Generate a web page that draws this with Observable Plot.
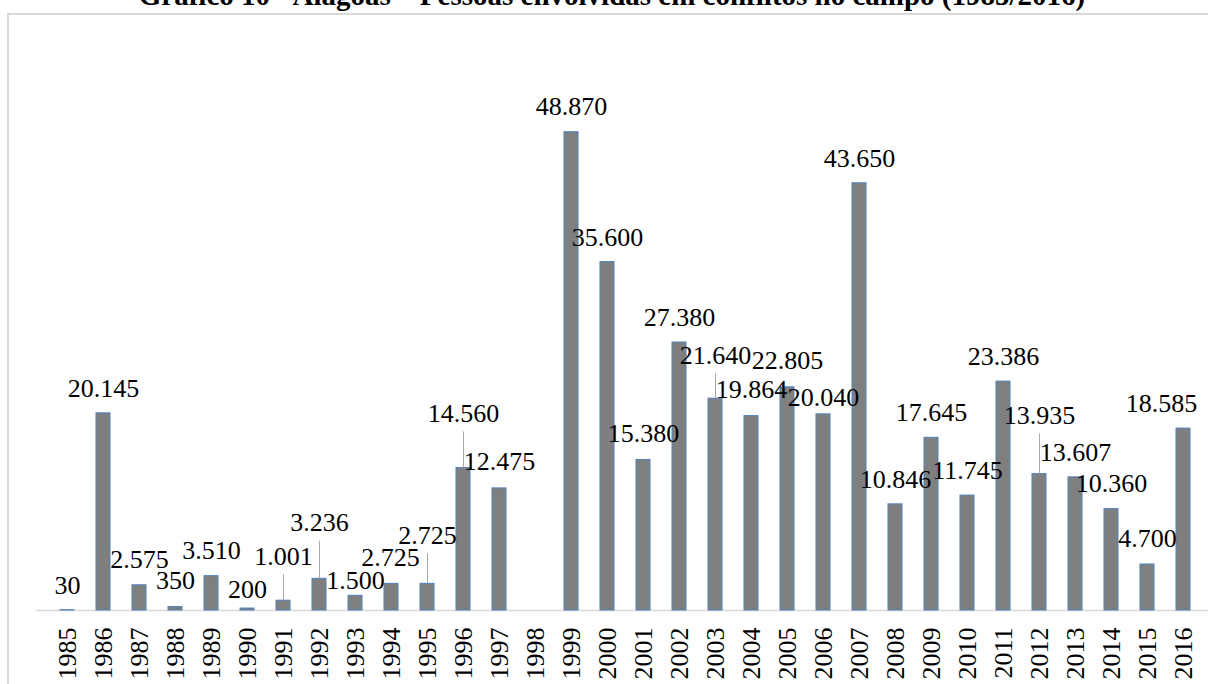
<!DOCTYPE html>
<html><head><meta charset="utf-8">
<script src="https://cdn.jsdelivr.net/npm/d3@7"></script>
<script src="https://cdn.jsdelivr.net/npm/@observablehq/plot@0.6"></script>
<style>
html,body{margin:0;padding:0;background:#fff;overflow:hidden;width:1208px;height:684px;}
#title{position:relative;height:13px;}
#title span{position:absolute;left:8px;width:1208px;top:-18.8px;text-align:center;font-family:"Liberation Serif","Times New Roman",serif;font-weight:bold;font-size:29px;line-height:29px;white-space:nowrap;color:#000;}
#frame{margin-left:7px;border-top:2px solid #d9d9d9;border-left:2px solid #d9d9d9;width:1199px;height:669px;overflow:hidden;}
#frame svg{display:block;font-family:"Liberation Serif","Times New Roman",serif !important;}
#frame svg text{font-family:"Liberation Serif","Times New Roman",serif !important;}
</style></head><body>
<div id="title"><span>Gráfico 10 - Alagoas – Pessoas envolvidas em conflitos no campo (1985/2016)</span></div>
<div id="frame"></div>
<script>
// Categories (years)
const years = ["1985","1986","1987","1988","1989","1990","1991","1992","1993","1994","1995","1996","1997","1998","1999","2000","2001","2002","2003","2004","2005","2006","2007","2008","2009","2010","2011","2012","2013","2014","2015","2016"];
// Pessoas envolvidas em conflitos no campo
const values = [30,20145,2575,350,3510,200,1001,3236,1500,2725,2725,14560,12475,null,48870,35600,15380,27380,21640,19864,22805,20040,43650,10846,17645,11745,23386,13935,13607,10360,4700,18585];
// Data-label placement (px above bar top, px sideways), as in the original
const labelRaise = [16,16,17.5,18,16.7,11,36,47.7,7,18,40,46,18,0,16.7,16,18,17,35,17.7,18,8,16.7,16.7,17.3,17,17,50,16.7,16.7,17.3,17];
const labelShift = [0,0,0,0,0,0,0,0,0,-1,0,0,0,0,0,0,0,0,0,0,0,0,0,0,0,0,0,0,0,0,0,-22];
const leaderYears = ["1991","1992","1995","1996","2003","2012"];

const FONT = '"Liberation Serif","Times New Roman",serif';
const fmt = d3.formatLocale({decimal: ",", thousands: ".", grouping: [3], currency: ["R$", ""]}).format(",d");

const rows = years.map((year, i) => ({year, value: values[i], i})).filter(d => d.value != null);

const labelMarks = rows.map(d => Plot.text([d], {
  x: "year", y: "value", text: r => fmt(r.value),
  lineAnchor: "bottom", textAnchor: "middle",
  dy: -labelRaise[d.i], dx: labelShift[d.i],
  fontSize: 26, fontFamily: FONT, fill: "#000"
}));

const leaderMarks = rows.filter(d => leaderYears.includes(d.year)).map(d => Plot.ruleX([d], {
  x: "year", y1: "value", y2: "value",
  insetBottom: labelRaise[d.i] - 10,
  stroke: "#a6a6a6", strokeWidth: 1
}));

const chart = Plot.plot({
  width: 1199,
  height: 669,
  marginTop: 105.64,
  marginBottom: 74,
  marginLeft: 26.8,
  marginRight: 0,
  style: {fontFamily: FONT, fontSize: "26px", background: "white", color: "#000"},
  x: {type: "band", domain: years, range: [26.8, 1205.7], paddingInner: 0.6, paddingOuter: 0.3, align: 0.5},
  y: {domain: [0, 50000], axis: null},
  marks: [
    Plot.ruleY([0], {stroke: "#d9d9d9", strokeWidth: 1.5}),
    Plot.barY(rows, {x: "year", y: "value", fill: "#7f7f7f", stroke: "#4f81bd", strokeWidth: 1}),
    ...leaderMarks,
    ...labelMarks,
    Plot.axisX({tickRotate: -90, tickSize: 0, tickPadding: 17, fontSize: 26, fontFamily: FONT, tickFormat: d => d, label: null})
  ]
});
document.getElementById("frame").appendChild(chart);
</script>
</body></html>
